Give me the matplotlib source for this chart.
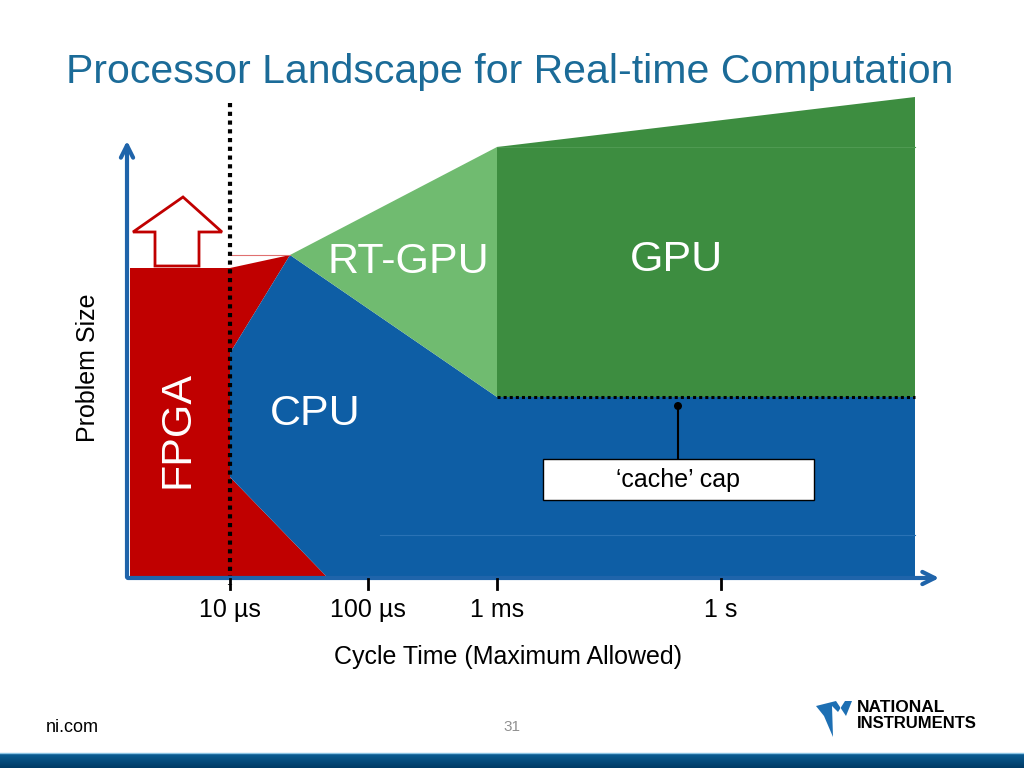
import matplotlib.pyplot as plt
from matplotlib.patches import Polygon, Rectangle, Circle
import numpy as np

plt.rcParams['font.family'] = ['Liberation Sans', 'DejaVu Sans']

# diagram regions, vertices in slide pixels (x right, y down)
fpga_x = [130, 130, 230, 290, 230, 230, 328]
fpga_y = [578, 268, 268, 255, 353, 477, 578]
cpu_x = [290, 497, 915, 915, 328, 230, 230]
cpu_y = [255, 397, 397, 578, 578, 477, 353]
rtgpu_x = [290, 497, 497]
rtgpu_y = [255, 147, 397]
gpu_x = [497, 915, 915, 497]
gpu_y = [147, 97, 397, 397]

# up arrow on FPGA
arrow_x = [183, 222, 199, 199, 155, 155, 133]
arrow_y = [197, 232, 232, 266, 266, 232, 232]

# cycle-time axis ticks
tick_pos = [230, 368, 497, 721]
tick_labels = ['10 µs', '100 µs', '1 ms', '1 s']

regions = [
    ('FPGA', fpga_x, fpga_y, '#c00000', (178, 430), 90),
    ('CPU', cpu_x, cpu_y, '#0e5ea5', (315, 414), 0),
    ('RT-GPU', rtgpu_x, rtgpu_y, '#70bb70', (408, 262), 0),
    ('GPU', gpu_x, gpu_y, '#3d8d40', (677, 260), 0),
]

fig = plt.figure(figsize=(10.24, 7.68), dpi=100)
ax = fig.add_axes([0, 0, 1, 1])
ax.set_xlim(0, 1024)
ax.set_ylim(768, 0)
ax.axis('off')

for name, xs, ys, col, _, _ in regions:
    ax.add_patch(Polygon(np.column_stack([xs, ys]), closed=True, fc=col, ec='none', zorder=2))

# faint seam lines seen on the slide
ax.plot([230, 290], [255, 255], color='#e07070', lw=0.8, zorder=2)
ax.plot([497, 915], [147, 147], color='#4f9a52', lw=0.8, zorder=2)
ax.plot([380, 915], [535, 535], color='#2a72b5', lw=0.8, zorder=2)

for name, xs, ys, col, (tx, ty), rot in regions:
    ax.text(tx, ty, name, color='white', fontsize=31, ha='center', va='center',
            rotation=rot, zorder=5)

# red outlined arrow
ax.add_patch(Polygon(np.column_stack([arrow_x, arrow_y]), closed=True, fc='white',
                     ec='#c00000', lw=2, zorder=4))

# dotted limits
ax.plot([230, 230], [103, 585], color='black', lw=3, linestyle=(0, (1, 1.1)),
        dash_capstyle='butt', zorder=6)
ax.plot([497, 915], [397, 397], color='black', lw=2.2, linestyle=(0, (1, 1)),
        dash_capstyle='butt', zorder=6)

# axes arrows
axis_col = '#1f64aa'
ax.annotate('', xy=(127, 138), xytext=(127, 580),
            arrowprops=dict(arrowstyle='->', lw=3, color=axis_col, mutation_scale=22), zorder=7)
ax.annotate('', xy=(942, 578), xytext=(125, 578),
            arrowprops=dict(arrowstyle='->', lw=3, color=axis_col, mutation_scale=22), zorder=7)

for xp, lab in zip(tick_pos, tick_labels):
    ax.plot([xp, xp], [579, 589], color='black', lw=2, zorder=7)
    ax.text(xp, 610, lab, fontsize=18, ha='center', va='center')

ax.text(508, 657, 'Cycle Time (Maximum Allowed)', fontsize=18, ha='center', va='center')
ax.text(88, 368, 'Problem Size', fontsize=18, ha='center', va='center', rotation=90)

# cache cap callout
ax.plot([678, 678], [406, 459], color='black', lw=1.5, zorder=7)
ax.add_patch(Circle((678, 406), 4, fc='black', ec='none', zorder=8))
ax.add_patch(Rectangle((543, 459), 271, 41, fc='white', ec='black', lw=1, zorder=7))
ax.text(678, 480, '‘cache’ cap', fontsize=18, ha='center', va='center', zorder=8)

# slide title and footer
ax.text(510, 72, 'Processor Landscape for Real-time Computation', fontsize=29.5,
        color='#1b6b98', ha='center', va='center')
ax.text(72, 727, 'ni.com', fontsize=13, ha='center', va='center')
ax.text(512, 727, '31', fontsize=11, color='#909090', ha='center', va='center')

# NI logo (approximate)
logo_x = [816, 836, 846, 852, 845, 838, 832, 833, 824]
logo_y = [706, 701, 716, 701, 701, 712, 706, 737, 716]
ax.add_patch(Polygon(np.column_stack([logo_x, logo_y]), closed=True, fc='#1d6fb3', ec='none'))
ax.text(857, 708, 'NATIONAL', fontsize=12.5, fontweight='bold', ha='left', va='center')
ax.text(857, 724, 'INSTRUMENTS', fontsize=12, fontweight='bold', ha='left', va='center')

# bottom bar
grad = np.linspace(0, 1, 16).reshape(-1, 1)
ax.imshow(grad, extent=(0, 1024, 768, 753), cmap=plt.matplotlib.colors.LinearSegmentedColormap.from_list(
    'bar', ['#0b5f96', '#003b66']), aspect='auto', zorder=1)
ax.plot([0, 1024], [752.5, 752.5], color='#8cc4e4', lw=1, zorder=2)
ax.set_xlim(0, 1024)
ax.set_ylim(768, 0)

fig.savefig('out.png', dpi=100)
